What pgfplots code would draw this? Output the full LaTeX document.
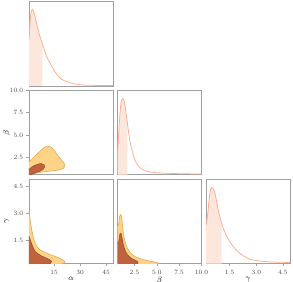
\documentclass[border=0pt]{standalone}
\usepackage{fontspec}
\usepackage{pgfplots}
\pgfplotsset{compat=1.18}
\definecolor{framegray}{RGB}{160,160,160}
\definecolor{curvec}{RGB}{251,172,140}
\definecolor{shadec}{RGB}{253,231,220}
\definecolor{outerfill}{RGB}{253,212,135}
\definecolor{outeredge}{RGB}{226,170,85}
\definecolor{innerfill}{RGB}{192,98,62}
\definecolor{inneredge}{RGB}{160,78,45}

\pgfplotstableread{
x y
0.5 46
0.9 58
1.3 68
1.8 74
2.4 76
3.2 74
4.0 69
5.2 60
6.5 51
8.2 42
10.3 31
12.6 23
14.8 16
16.5 11.5
19 7
22.3 4.3
26 2.3
31.8 1
38 0.6
49 0.4
}\densA
\pgfplotstableread{
x y
0.5 46
0.9 58
1.3 68
1.8 74
2.4 76
3.2 74
4.0 69
5.2 60
6.5 51
8.2 42
}\shadeA
\pgfplotstableread{
x y
0.6 20
0.79 50
0.96 70
1.08 75.5
1.2 76.7
1.35 73.7
1.49 66.7
1.71 51.5
1.94 36.7
2.24 23.7
2.6 13.7
3.16 6.7
4.1 2.9
5.6 1.7
7.6 1
10 0.7
}\densB
\pgfplotstableread{
x y
0.6 20
0.79 50
0.96 70
1.08 75.5
1.2 76.7
1.35 73.7
1.49 66.7
1.71 51.5
}\shadeB
\pgfplotstableread{
x y
0.17 38
0.27 50
0.34 63.7
0.42 73.7
0.49 76.4
0.56 75.2
0.68 70.4
0.86 53.7
1.05 40.4
1.34 27
1.71 17
2.08 10.4
2.65 4.4
3.59 2
4.9 1.2
}\densG
\pgfplotstableread{
x y
0.17 38
0.27 50
0.34 63.7
0.42 73.7
0.49 76.4
0.56 75.2
0.68 70.4
0.86 53.7
1.05 40.4
}\shadeG
\pgfplotstableread{
x y
-1 2.15
0.5 2.04
3 2.5
6 3.05
9 3.6
10.7 3.78
12.2 3.75
13.6 3.62
15.5 3.2
17.4 2.67
19.4 2.19
20.9 1.82
21.3 1.56
20.3 1.3
17.4 1.11
12.6 1.0
6.85 0.86
3 0.7
0.67 0.63
-1 0.5
}\abOuter
\pgfplotstableread{
x y
-1 1.15
0.5 1.2
2.5 1.5
4.9 1.72
6.5 1.82
7.8 1.82
9.3 1.68
9.6 1.5
8.75 1.22
7.2 1.02
5.2 0.88
3 0.73
1.3 0.6
-1 0.45
}\abInner
\pgfplotstableread{
x y
-1 3.25
0.5 3.15
0.9 2.85
1.3 2.55
2.06 2.07
3 1.65
4.0 1.32
5.3 1.1
6.85 0.94
9.5 0.82
12.6 0.68
15.5 0.58
18.4 0.47
20.5 0.36
21.3 0.27
20.5 0.19
18 0.14
10 0.1
-1 0.1
}\agOuter
\pgfplotstableread{
x y
-1 1.75
0.5 1.7
1.2 1.5
2.06 1.28
3 1.05
4.0 0.86
6 0.7
8.75 0.56
11 0.46
12.6 0.38
13.5 0.3
13 0.2
11 0.15
-1 0.12
}\agInner
\pgfplotstableread{
x y
0.5 2.2
0.72 2.35
0.82 2.75
0.93 2.93
1.04 2.85
1.13 2.5
1.22 2.05
1.33 1.65
1.5 1.3
1.7 1.04
2.0 0.82
2.4 0.62
3.35 0.42
4.2 0.32
4.9 0.25
5.2 0.19
4.5 0.12
0.5 0.1
}\bgOuter
\pgfplotstableread{
x y
0.5 1.25
0.74 1.4
0.82 1.72
0.93 1.88
1.05 1.78
1.17 1.45
1.31 1.12
1.5 0.86
1.7 0.68
2.0 0.52
2.43 0.40
2.8 0.31
2.9 0.22
2.5 0.14
0.5 0.1
}\bgInner

\pgfplotsset{
  corner/.style={
    scale only axis, width=84bp, height=84.5bp, anchor=south west,
    axis line style={draw=framegray, line width=0.8bp},
    tick style={draw=framegray, line width=0.6bp},
    major tick length=2.5bp, tick align=outside,
    xtick=\empty, ytick=\empty,
    xtick pos=bottom, ytick pos=left,
    /pgf/number format/assume math mode=true,
    ticklabel style={font=\fontsize{6.5}{7}\selectfont, text=black!75},
    xlabel style={font=\fontsize{8}{9}\selectfont, at={(axis description cs:0.5,0)}, anchor=north, inner sep=0pt, yshift=-13.5bp},
    ylabel style={font=\fontsize{8}{9}\selectfont, at={(axis description cs:0,0.5)}, anchor=center, inner sep=0pt, yshift=22bp},
    clip=true,
  },
  fix1/.style={/pgf/number format/.cd, fixed, fixed zerofill, precision=1},
  outerstyle/.style={fill=outerfill, draw=outeredge, line width=0.6bp, smooth},
  innerstyle/.style={fill=innerfill, draw=inneredge, line width=0.6bp, smooth},
}

\begin{document}
\begin{tikzpicture}
% row 1: alpha density
\begin{axis}[corner, at={(29bp,196bp)}, xmin=0.5, xmax=49, ymin=0, ymax=84]
\addplot[fill=shadec, draw=none, smooth] table {\shadeA} \closedcycle;
\addplot[draw=curvec, line width=0.75bp, smooth] table {\densA};
\end{axis}

% row 2: alpha-beta
\begin{axis}[corner, at={(29bp,107.3bp)}, xmin=0.5, xmax=49, ymin=0.6, ymax=10,
  ytick={2.5,5,7.5,10}, yticklabel style={fix1}, ylabel={$\beta$}]
\addplot[outerstyle] table {\abOuter};
\addplot[innerstyle] table {\abInner};
\end{axis}

% row 2: beta density
\begin{axis}[corner, at={(117.5bp,107.3bp)}, xmin=0.6, xmax=10, ymin=0, ymax=85]
\addplot[fill=shadec, draw=none, smooth] table {\shadeB} \closedcycle;
\addplot[draw=curvec, line width=0.75bp, smooth] table {\densB};
\end{axis}

% row 3: alpha-gamma
\begin{axis}[corner, at={(29bp,18.3bp)}, xmin=0.5, xmax=49, ymin=0.17, ymax=4.9,
  xtick={15,30,45}, ytick={1.5,3,4.5}, yticklabel style={fix1},
  xlabel={$\alpha$}, ylabel={$\gamma$}]
\addplot[outerstyle] table {\agOuter};
\addplot[innerstyle] table {\agInner};
\end{axis}

% row 3: beta-gamma
\begin{axis}[corner, at={(117.5bp,18.3bp)}, xmin=0.6, xmax=10, ymin=0.17, ymax=4.9,
  xtick={2.5,5,7.5,10}, xticklabel style={fix1}, xlabel={$\beta$}]
\addplot[outerstyle] table {\bgOuter};
\addplot[innerstyle] table {\bgInner};
\end{axis}

% row 3: gamma density
\begin{axis}[corner, at={(206bp,18.3bp)}, xmin=0.17, xmax=4.9, ymin=0, ymax=84.5,
  xtick={1.5,3,4.5}, xticklabel style={fix1}, xlabel={$\gamma$}]
\addplot[fill=shadec, draw=none, smooth] table {\shadeG} \closedcycle;
\addplot[draw=curvec, line width=0.75bp, smooth] table {\densG};
\end{axis}

\pgfresetboundingbox
\path[use as bounding box] (0,0) rectangle (293bp,282bp);
\end{tikzpicture}
\end{document}
